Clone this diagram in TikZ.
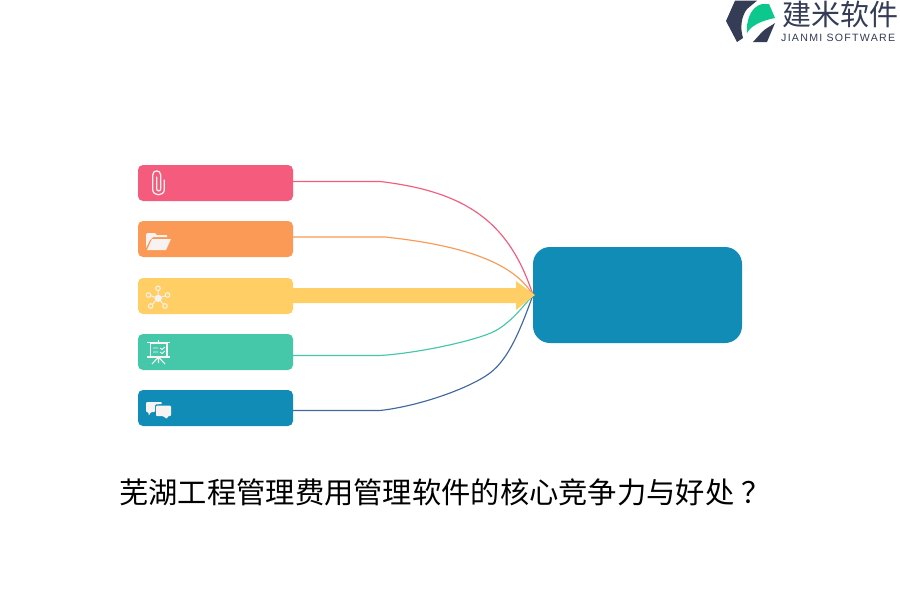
\documentclass[tikz,border=0pt]{standalone}
\usepackage{fontspec}
\setmainfont{Liberation Sans}
\newfontfamily\cjk{Noto Sans CJK SC}
\newfontfamily\spaced[LetterSpace=12]{Liberation Sans}
\definecolor{cpink}{HTML}{F45B7C}
\definecolor{corange}{HTML}{FB9956}
\definecolor{cyellow}{HTML}{FFCF66}
\definecolor{cteal}{HTML}{45C7A9}
\definecolor{cblue}{HTML}{118CB6}
\definecolor{lblue}{HTML}{41689F}
\definecolor{cdark}{HTML}{343C56}
\definecolor{cgreen}{HTML}{0CC88C}
\definecolor{ciconw}{HTML}{F6F3F2}
\tikzset{
  x=1pt,y=-1pt,
  bar/.style={fill=#1,draw=none,rounded corners=5pt,minimum width=155pt,minimum height=36pt,inner sep=0pt,outer sep=0pt},
  hubbox/.style={fill=cblue,draw=none,rounded corners=17pt,minimum width=209pt,minimum height=96pt,inner sep=0pt,outer sep=0pt},
  link/.style={draw=#1,line width=1.15pt},
  ico/.style={draw=ciconw,line width=1.1pt,fill=none},
}
\begin{document}
\begin{tikzpicture}
\useasboundingbox[fill=white] (0,0) rectangle (900,600);
\node[bar=cpink] (a) at (215.5,183) {};
\node[bar=corange] (b) at (215.5,239) {};
\node[bar=cyellow] (c) at (215.5,296) {};
\node[bar=cteal] (d) at (215.5,352) {};
\node[bar=cblue] (e) at (215.5,408) {};
\node[hubbox] (h) at (637.5,295) {};
\coordinate (t) at (h.west);
% connectors
\draw[link=cpink] (293,181.5) -- (380,181.5) .. controls (470,192) and (510,225) .. (t);
\draw[link=corange] (293,237) -- (385,237) .. controls (470,246) and (515,265) .. (t);
\draw[link=cteal] (293,355.5) -- (380,355.5) .. controls (420,353) and (478,340) .. (495,331) .. controls (510,323) and (522,308) .. (t);
\draw[link=lblue] (293,410.5) -- (380,410.5) .. controls (420,406) and (470,388) .. (490,373) .. controls (510,358) and (522,325) .. (t);
\fill[cyellow] (293,288) -- (516,288) -- (516,281) -- (535,295) -- (516,310) -- (516,303) -- (293,303) -- cycle;
% paperclip
\draw[ico,line width=1.25pt,line cap=round] (164.3,180) -- (164.3,189.5) .. controls (164.3,196.5) and (152.7,196.5) .. (152.7,189.5) -- (152.7,175)
 .. controls (152.7,169.5) and (160.7,169.5) .. (160.7,175) -- (160.7,189) .. controls (160.7,191.5) and (156.7,191.5) .. (156.7,189) -- (156.7,177);
% folder
\fill[ciconw] (146,248) -- (146,235) -- (147,233) -- (155,233) -- (157,235) -- (167,235) -- (167,237) -- (153,237) -- (150,240) -- cycle;
\fill[ciconw] (147,250) -- (152,239) -- (171,239) -- (166,250) -- cycle;
% network
\foreach \p/\q in {158/288.3, 148.5/295, 167.5/295, 150.7/306, 165/306}{
  \draw[ico,line width=0.9pt] (158.2,298.3) -- (\p,\q);
  \fill[cyellow] (\p,\q) circle (2.3);
  \draw[ico,line width=1pt] (\p,\q) circle (2.3);
}
\fill[ciconw] (158.2,298.3) circle (3.6);
% presentation
\draw[ico] (150.5,343) rectangle (167,357);
\draw[ico,line width=1.4pt] (147,342.5) -- (170,342.5);
\draw[ico,line width=1.4pt] (147,357) -- (170,357);
\draw[ico] (158.5,340) -- (158.5,342);
\draw[ico] (158.5,357) -- (158.5,363) (158.5,357) -- (152,364) (158.5,357) -- (165,364);
\draw[ico,line width=0.95pt] (153,348) -- (158,348) (153,352) -- (158,352) (160,348) -- (162,349.5) -- (165,347) (160,352) -- (162,353.5) -- (165,351);
% chat
\fill[ciconw,rounded corners=1pt] (146,402) -- (162,402) -- (162,404) -- (155,404.5) -- (155,412) -- (151,412) -- (148.5,416) -- (148.5,412) -- (146,412) -- cycle;
\fill[ciconw,rounded corners=1pt] (156,405.5) -- (171,405.5) -- (171,416) -- (168,416) -- (167,419) -- (163,416) -- (156,416) -- cycle;
% title
\node[font=\cjk,anchor=west,inner sep=0pt] (title) at (119,492.5) {\fontsize{29.3}{29.3}\selectfont 芜湖工程管理费用管理软件的核心竞争力与好处\hspace{7pt}？};
% logo
\fill[cdark] (726,21) -- (735,0.7) -- (757,0.7) -- (747,9) .. controls (741,17) and (740,28) .. (743,38) -- (737,42) -- cycle;
\fill[cgreen] (747,33) .. controls (746,22) and (750,7) .. (762,4) -- (769,4) -- (775,18) .. controls (765,20) and (752,24) .. (747,33) -- cycle;
\fill[cdark] (753,42) -- (762,32) .. controls (766,28) and (771,26) .. (775,23) -- (767,42) -- cycle;
\node[font=\cjk,anchor=west,inner sep=0pt,text=cdark] (logot) at (782,14) {\fontsize{29}{29}\selectfont 建米软件};
\node[anchor=west,inner sep=0pt,text=cdark] (logos) at (781,38) {\spaced\fontsize{10.6}{11}\selectfont JIANMI SOFTWARE};
\end{tikzpicture}
\end{document}
